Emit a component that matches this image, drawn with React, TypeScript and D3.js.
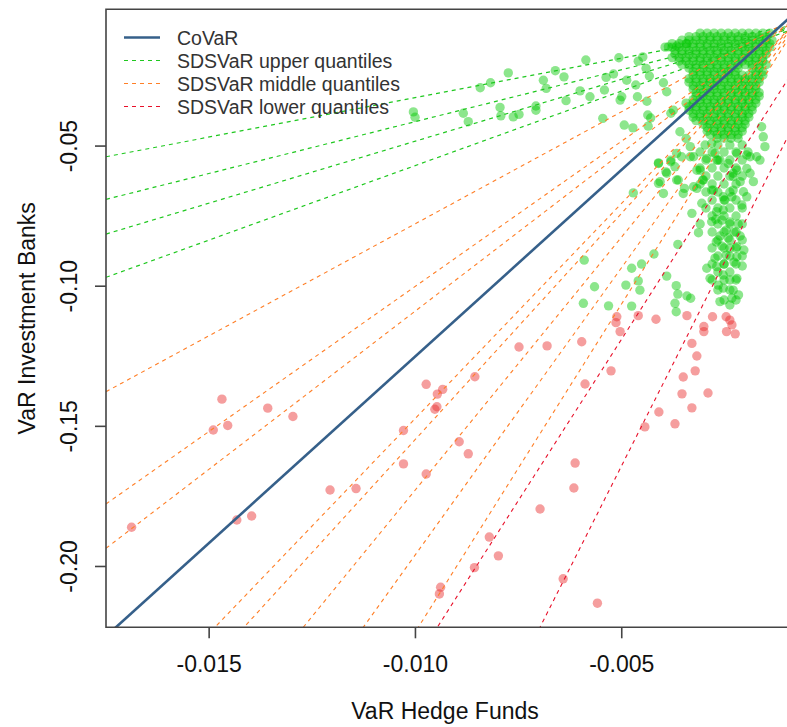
import React from "react";
import * as d3 from "d3";

const W = 787;
const H = 727;

// axes
const xDomain = [-0.0175, -0.0005];
const yDomain = [-0.2217, -0.0012];
const xTicks = [-0.015, -0.01, -0.005];
const xTickLabels = ["-0.015", "-0.010", "-0.005"];
const yTicks = [-0.05, -0.1, -0.15, -0.2];
const yTickLabels = ["-0.05", "-0.10", "-0.15", "-0.20"];

// fitted lines: y = intercept + slope * x
const covarIntercept = 0.00821;
const covarSlope = 13.32;
const upperIntercepts = [-0.00453, -0.00425, -0.00403, -0.00374];
const upperSlopes = [2.816, 3.701, 4.421, 5.319];
const middleIntercepts = [0.00224, 0.00356, 0.00408, 0.00634, 0.00678, 0.00784, 0.00921, 0.01083];
const middleSlopes = [7.993, 10.357, 11.29, 15.346, 16.14, 18.047, 20.498, 23.414];
const lowerIntercepts = [-0.00377, -0.01825];
const lowerSlopes = [23.01, 29.14];

const legendLabels = ["CoVaR", "SDSVaR upper quantiles", "SDSVaR middle quantiles", "SDSVaR lower quantiles"];

// red observations (low quantile regime)
const redPoints: [number, number][] = [
  [-0.01688, -0.186], [-0.0149, -0.1513], [-0.01469, -0.1403], [-0.01455, -0.1497], [-0.01358, -0.1435],
  [-0.01297, -0.1465], [-0.01433, -0.1834], [-0.01397, -0.182], [-0.01207, -0.1727], [-0.01144, -0.1722],
  [-0.00974, -0.135], [-0.00947, -0.1385], [-0.00934, -0.1368], [-0.00948, -0.143], [-0.00953, -0.1439],
  [-0.00856, -0.1323], [-0.01029, -0.1515], [-0.00894, -0.1555], [-0.00872, -0.1598], [-0.01029, -0.1634],
  [-0.00974, -0.167], [-0.00821, -0.1895], [-0.00799, -0.1962], [-0.00857, -0.2004], [-0.00939, -0.2074],
  [-0.00942, -0.2098], [-0.00597, -0.1198], [-0.00512, -0.1109], [-0.00514, -0.113], [-0.00504, -0.1162],
  [-0.0046, -0.1105], [-0.00417, -0.1118], [-0.00342, -0.1105], [-0.00301, -0.1144], [-0.00301, -0.1162],
  [-0.0028, -0.1109], [-0.00247, -0.1109], [-0.00238, -0.1121], [-0.00233, -0.1138], [-0.00246, -0.1162],
  [-0.00225, -0.117], [-0.0033, -0.1204], [-0.00642, -0.2044], [-0.00559, -0.2131], [-0.00749, -0.1217],
  [-0.00681, -0.1213], [-0.00526, -0.1302], [-0.00589, -0.1349], [-0.00613, -0.1631], [-0.00616, -0.172],
  [-0.00698, -0.1795], [-0.00318, -0.1249], [-0.00322, -0.1302], [-0.00351, -0.1324], [-0.00291, -0.1381],
  [-0.00354, -0.1384], [-0.0041, -0.1449], [-0.00444, -0.1502], [-0.0033, -0.1434], [-0.00371, -0.1491],
];

// green observations, scattered
const greenScatter: [number, number][] = [
  [-0.01005, -0.0378], [-0.01001, -0.0397], [-0.00884, -0.0383], [-0.00872, -0.0413], [-0.00843, -0.0292],
  [-0.00818, -0.0274], [-0.00775, -0.0239], [-0.00795, -0.0362], [-0.00793, -0.0392], [-0.00763, -0.0396],
  [-0.00749, -0.0387], [-0.00708, -0.0357], [-0.00708, -0.0372], [-0.0069, -0.0265], [-0.00683, -0.0294],
  [-0.00661, -0.0231], [-0.0064, -0.0253], [-0.00635, -0.0338], [-0.00601, -0.0303], [-0.00587, -0.0193],
  [-0.00577, -0.0324], [-0.00546, -0.0401], [-0.00542, -0.03], [-0.00538, -0.0255], [-0.0052, -0.0243],
  [-0.00507, -0.0185], [-0.00504, -0.0336], [-0.005, -0.0324], [-0.00488, -0.0265], [-0.00494, -0.0425],
  [-0.00473, -0.0435], [-0.00466, -0.0282], [-0.00462, -0.0324], [-0.0046, -0.0197], [-0.00449, -0.0182],
  [-0.00441, -0.0223], [-0.00439, -0.034], [-0.00437, -0.0389], [-0.00436, -0.0429], [-0.00433, -0.025],
  [-0.0043, -0.04], [-0.00399, -0.0274], [-0.00391, -0.0306], [-0.00387, -0.0146], [-0.00381, -0.0383],
  [-0.00375, -0.0372], [-0.00367, -0.0143], [-0.00342, -0.0134], [-0.00359, -0.0449], [-0.00344, -0.0473],
  [-0.00334, -0.0502], [-0.00326, -0.0538], [-0.00367, -0.0526], [-0.00381, -0.0556], [-0.00391, -0.0597],
  [-0.00407, -0.0627], [-0.00411, -0.056], [-0.00371, -0.0574], [-0.00363, -0.0621], [-0.00399, -0.0669],
  [-0.00472, -0.0667], [-0.00351, -0.0669], [-0.00326, -0.0645], [-0.0031, -0.0586], [-0.00304, -0.0621],
  [-0.00282, -0.049], [-0.00274, -0.0526], [-0.00262, -0.055], [-0.00242, -0.0562], [-0.0023, -0.0597],
  [-0.00221, -0.0526], [-0.00213, -0.0627], [-0.00197, -0.058], [-0.00189, -0.0538], [-0.00181, -0.0627],
  [-0.00161, -0.0431], [-0.00157, -0.0467], [-0.00153, -0.0502], [-0.00165, -0.055], [-0.0023, -0.0657],
  [-0.00197, -0.0681], [-0.00254, -0.0681], [-0.00282, -0.0657],
  [-0.00591, -0.0907], [-0.00566, -0.1002], [-0.00593, -0.1061], [-0.00532, -0.107], [-0.00476, -0.1071],
  [-0.0049, -0.0996], [-0.00476, -0.0936], [-0.00452, -0.0921], [-0.0046, -0.0981], [-0.00456, -0.1014],
  [-0.00422, -0.0885], [-0.00391, -0.0964], [-0.00368, -0.0998], [-0.00364, -0.0851], [-0.00364, -0.1028],
  [-0.00342, -0.1035], [-0.00333, -0.1043], [-0.00371, -0.1061], [-0.00368, -0.1091], [-0.00411, -0.0562],
  [-0.00381, -0.055], [-0.00393, -0.0592], [-0.00411, -0.0633], [-0.00367, -0.0621], [-0.00348, -0.0651],
  [-0.00318, -0.0651], [-0.00306, -0.0704], [-0.0033, -0.074], [-0.0031, -0.0778], [-0.00314, -0.0809],
  [-0.00282, -0.077], [-0.00272, -0.0761], [-0.0027, -0.0734], [-0.00254, -0.0728], [-0.0025, -0.0693],
  [-0.00233, -0.0681], [-0.00209, -0.071], [-0.00205, -0.0663], [-0.00189, -0.0597], [-0.00197, -0.0532],
  [-0.00173, -0.0538], [-0.0023, -0.0609], [-0.00302, -0.0621], [-0.00318, -0.0586], [-0.00294, -0.0544],
  [-0.00355, -0.0538], [-0.00334, -0.0538], [-0.00278, -0.0657], [-0.0027, -0.055], [-0.00221, -0.0586],
  [-0.00221, -0.0859], [-0.00221, -0.0895], [-0.00274, -0.09], [-0.0027, -0.093], [-0.00294, -0.0936],
  [-0.00286, -0.0972], [-0.00254, -0.096], [-0.00238, -0.0978], [-0.00221, -0.0972], [-0.00266, -0.0996],
  [-0.00254, -0.1007], [-0.0023, -0.1014], [-0.00233, -0.1043], [-0.00262, -0.1055], [-0.00238, -0.1067],
  [-0.00217, -0.1031],
  [-0.00257, -0.0764], [-0.00238, -0.0771], [-0.00218, -0.0778], [-0.00247, -0.08], [-0.00228, -0.0807],
  [-0.00262, -0.0821], [-0.00242, -0.0828], [-0.00213, -0.0821], [-0.00257, -0.0857], [-0.00238, -0.0864],
  [-0.00247, -0.0889], [-0.00228, -0.0914], [-0.00252, -0.0921], [-0.00204, -0.0871], [-0.00271, -0.0842],
  [-0.00208, -0.0928],
];

// green observations, dense cluster near the top right (one row per VaR-IB level)
const clusterRowY = [
  -0.0097, -0.01095, -0.0122, -0.01344, -0.0147, -0.01594, -0.0172, -0.01844, -0.0197, -0.02093,
  -0.0222, -0.02343, -0.0247, -0.02593, -0.0272, -0.02842, -0.0297, -0.03092, -0.0322, -0.03342,
  -0.0347, -0.03591, -0.0372, -0.03841, -0.0397, -0.04091, -0.0422, -0.0434, -0.0447, -0.0459, -0.0472,
];
const clusterRowX: number[][] = [
  [-0.0031, -0.00293, -0.00276, -0.00259, -0.00242, -0.00225, -0.00208, -0.00192, -0.00175, -0.00158, -0.00141],
  [-0.00337, -0.0032, -0.00303, -0.00286, -0.00269, -0.00252, -0.00235, -0.00218, -0.00201, -0.00184, -0.00167, -0.0015],
  [-0.00354, -0.00337, -0.0032, -0.00303, -0.00286, -0.00269, -0.00252, -0.00235, -0.00218, -0.00201, -0.00184, -0.00167, -0.0015, -0.00136],
  [-0.00378, -0.00361, -0.00344, -0.00327, -0.0031, -0.00293, -0.00276, -0.00259, -0.00242, -0.00225, -0.00208, -0.00192, -0.00175, -0.00158, -0.00141],
  [-0.00395, -0.00378, -0.00361, -0.00344, -0.00327, -0.0031, -0.00293, -0.00276, -0.00259, -0.00242, -0.00225, -0.00208, -0.00192, -0.00175, -0.00158, -0.00141],
  [-0.00371, -0.00354, -0.00337, -0.0032, -0.00303, -0.00286, -0.00269, -0.00252, -0.00235, -0.00218, -0.00201, -0.00184, -0.00167, -0.0015],
  [-0.00371, -0.00354, -0.00337, -0.0032, -0.00303, -0.00286, -0.00269, -0.00252, -0.00235, -0.00218, -0.00201, -0.00184, -0.00167, -0.0015],
  [-0.00378, -0.00361, -0.00344, -0.00327, -0.0031, -0.00293, -0.00276, -0.00259, -0.00242, -0.00225, -0.00208, -0.00192, -0.00175, -0.00158],
  [-0.00361, -0.00344, -0.00327, -0.0031, -0.00293, -0.00276, -0.00259, -0.00242, -0.00225, -0.00208, -0.00192, -0.00175, -0.00158],
  [-0.00354, -0.00337, -0.0032, -0.00303, -0.00286, -0.00269, -0.00252, -0.00235, -0.00218, -0.00201, -0.00184, -0.00167, -0.0015],
  [-0.00337, -0.0032, -0.00303, -0.00286, -0.00269, -0.00252, -0.00235, -0.00218, -0.00184, -0.00167],
  [-0.00327, -0.0031, -0.00293, -0.00276, -0.00259, -0.00242, -0.00225, -0.00175, -0.00158],
  [-0.00327, -0.0031, -0.00293, -0.00276, -0.00259, -0.00242, -0.00225, -0.00208, -0.00192, -0.00175, -0.00158],
  [-0.00337, -0.0032, -0.00303, -0.00286, -0.00269, -0.00252, -0.00235, -0.00218, -0.00201, -0.00184, -0.00167],
  [-0.00337, -0.0032, -0.00303, -0.00286, -0.00269, -0.00252, -0.00235, -0.00218, -0.00201, -0.00184, -0.00167],
  [-0.00327, -0.0031, -0.00293, -0.00276, -0.00259, -0.00242, -0.00225, -0.00208, -0.00192, -0.00175],
  [-0.00327, -0.0031, -0.00293, -0.00276, -0.00259, -0.00242, -0.00225, -0.00208, -0.00192, -0.00175],
  [-0.0032, -0.00303, -0.00286, -0.00269, -0.00252, -0.00235, -0.00218, -0.00201, -0.00184, -0.00167],
  [-0.0032, -0.00303, -0.00286, -0.00269, -0.00252, -0.00235, -0.00218, -0.00201, -0.00184, -0.00167],
  [-0.00327, -0.0031, -0.00293, -0.00276, -0.00259, -0.00242, -0.00225, -0.00208, -0.00192, -0.00175],
  [-0.00344, -0.00327, -0.0031, -0.00293, -0.00276, -0.00259, -0.00242, -0.00225, -0.00208, -0.00192, -0.00175],
  [-0.00337, -0.0032, -0.00303, -0.00286, -0.00269, -0.00252, -0.00235, -0.00218, -0.00201, -0.00184],
  [-0.00337, -0.0032, -0.00303, -0.00286, -0.00269, -0.00252, -0.00235, -0.00218, -0.00201, -0.00184],
  [-0.00327, -0.0031, -0.00293, -0.00276, -0.00259, -0.00242, -0.00225, -0.00208, -0.00192],
  [-0.00327, -0.0031, -0.00293, -0.00276, -0.00259, -0.00242, -0.00225, -0.00208, -0.00192],
  [-0.0032, -0.00303, -0.00286, -0.00269, -0.00252, -0.00235, -0.00218, -0.00201],
  [-0.00303, -0.00286, -0.00269, -0.00252, -0.00235, -0.00218, -0.00201],
  [-0.00293, -0.00276, -0.00259, -0.00242, -0.00225, -0.00208],
  [-0.00293, -0.00276, -0.00259, -0.00242, -0.00225, -0.00208],
  [-0.00286, -0.00269, -0.00252, -0.00235, -0.00218],
  [-0.00269, -0.00252, -0.00235, -0.00218],
];

// green observations, the dense vertical band below the cluster
const bandRowY = [
  -0.04964, -0.05214, -0.05499, -0.05784, -0.0607, -0.06355, -0.0664, -0.06926, -0.07211, -0.07496,
  -0.07782, -0.08067, -0.08352, -0.08638, -0.08923, -0.09208, -0.09494, -0.09779, -0.10136, -0.10492,
];
const bandRowX: number[][] = [
  [-0.00298, -0.00267, -0.00238, -0.00208],
  [-0.0031, -0.00281, -0.00252, -0.00223, -0.00194],
  [-0.00296, -0.00267, -0.00238, -0.00208],
  [-0.0031, -0.00281, -0.00252, -0.00223],
  [-0.00296, -0.00267, -0.00238, -0.00208],
  [-0.0031, -0.00281, -0.00252, -0.00223],
  [-0.00296, -0.00267, -0.00238],
  [-0.00281, -0.00252, -0.00223],
  [-0.00296, -0.00267, -0.00238, -0.00208],
  [-0.00281, -0.00252, -0.00223],
  [-0.00267, -0.00238, -0.00208],
  [-0.00281, -0.00252, -0.00223],
  [-0.00267, -0.00238, -0.00208],
  [-0.00281, -0.00252, -0.00223],
  [-0.00267, -0.00238, -0.00208],
  [-0.00281, -0.00252, -0.00223],
  [-0.00267, -0.00238],
  [-0.00281, -0.00252, -0.00223],
  [-0.00267, -0.00238],
  [-0.00252, -0.00223],
];

const FONT = "'Liberation Sans', Arial, Helvetica, sans-serif";
const GREEN = "rgb(0,200,0)";
const RED = "rgb(232,40,40)";
const ORANGE = "#FF7F27";
const LRED = "#E8102A";
const BLUE = "#36608A";
const LGREEN = "#1FC81F";

export default function App() {
  const left = 106;
  const top = 9.3;
  const bottom = 627.3;
  const right = left + (xDomain[1] - xDomain[0]) * 41260;
  const x = d3.scaleLinear().domain(xDomain).range([left, right]);
  const y = d3.scaleLinear().domain(yDomain).range([bottom, top]);

  const greenPoints: [number, number][] = [...greenScatter];
  clusterRowY.forEach((yy, i) => clusterRowX[i].forEach((xx) => greenPoints.push([xx, yy])));
  bandRowY.forEach((yy, i) => bandRowX[i].forEach((xx) => greenPoints.push([xx, yy])));

  const lineGen = d3.line<[number, number]>().x((d) => x(d[0])).y((d) => y(d[1]));
  const seg = (a: number, b: number) => {
    const xs = [xDomain[0], xDomain[1]];
    return lineGen(xs.map((v) => [v, a + b * v] as [number, number])) || "";
  };

  const legendRowsY = [37.5, 60.5, 83.5, 106.5];
  const legendStyles = [
    { stroke: BLUE, width: 2.5, dash: "" },
    { stroke: LGREEN, width: 1.2, dash: "4,4" },
    { stroke: ORANGE, width: 1.2, dash: "4,4" },
    { stroke: LRED, width: 1.2, dash: "4,4" },
  ];
  const R = 4.7;

  return (
    <svg width={W} height={H} style={{ display: "block", position: "absolute", left: 0, top: 0, background: "#fff" }}>
      <defs>
        <clipPath id="plotclip">
          <rect x={left} y={top} width={right - left} height={bottom - top} />
        </clipPath>
      </defs>
      <rect x={0} y={0} width={W} height={H} fill="#fff" />
      <g clipPath="url(#plotclip)">
        {greenPoints.map((p, i) => (
          <circle key={"g" + i} cx={x(p[0])} cy={y(p[1])} r={R} fill={GREEN} fillOpacity={0.45} />
        ))}
        {redPoints.map((p, i) => (
          <circle key={"r" + i} cx={x(p[0])} cy={y(p[1])} r={R} fill={RED} fillOpacity={0.45} />
        ))}
        {upperIntercepts.map((a, i) => (
          <path key={"u" + i} d={seg(a, upperSlopes[i])} fill="none" stroke={LGREEN} strokeWidth={1.2} strokeDasharray="4,4" />
        ))}
        {middleIntercepts.map((a, i) => (
          <path key={"m" + i} d={seg(a, middleSlopes[i])} fill="none" stroke={ORANGE} strokeWidth={1.1} strokeDasharray="4,4" />
        ))}
        {lowerIntercepts.map((a, i) => (
          <path key={"l" + i} d={seg(a, lowerSlopes[i])} fill="none" stroke={LRED} strokeWidth={1.1} strokeDasharray="4,4" />
        ))}
        <path d={seg(covarIntercept, covarSlope)} fill="none" stroke={BLUE} strokeWidth={2.6} />
      </g>
      {/* frame */}
      <path d={`M${right},${top}H${left}V${bottom}H${right}`} fill="none" stroke="#444" strokeWidth={1.6} />
      {/* x ticks */}
      {xTicks.map((t, i) => (
        <g key={"xt" + i}>
          <line x1={x(t)} x2={x(t)} y1={bottom} y2={bottom + 11} stroke="#444" strokeWidth={1.6} />
          <text x={x(t)} y={671.5} textAnchor="middle" fontFamily={FONT} fontSize={23} fill="#111">
            {xTickLabels[i]}
          </text>
        </g>
      ))}
      {yTicks.map((t, i) => (
        <g key={"yt" + i}>
          <line x1={left - 11} x2={left} y1={y(t)} y2={y(t)} stroke="#444" strokeWidth={1.6} />
          <text
            transform={`translate(77,${y(t)}) rotate(-90)`}
            textAnchor="middle"
            fontFamily={FONT}
            fontSize={23}
            fill="#111"
          >
            {yTickLabels[i]}
          </text>
        </g>
      ))}
      <text x={445} y={719} textAnchor="middle" fontFamily={FONT} fontSize={23} fill="#111">
        VaR Hedge Funds
      </text>
      <text
        transform={`translate(35,${(top + bottom) / 2}) rotate(-90)`}
        textAnchor="middle"
        fontFamily={FONT}
        fontSize={23}
        fill="#111"
      >
        VaR Investment Banks
      </text>
      {/* legend */}
      {legendLabels.map((lab, i) => (
        <g key={"lg" + i}>
          <line
            x1={124}
            x2={160}
            y1={legendRowsY[i]}
            y2={legendRowsY[i]}
            stroke={legendStyles[i].stroke}
            strokeWidth={legendStyles[i].width}
            strokeDasharray={legendStyles[i].dash || undefined}
          />
          <text x={177} y={legendRowsY[i] + 7} fontFamily={FONT} fontSize={19.5} fill="#333">
            {lab}
          </text>
        </g>
      ))}
    </svg>
  );
}
